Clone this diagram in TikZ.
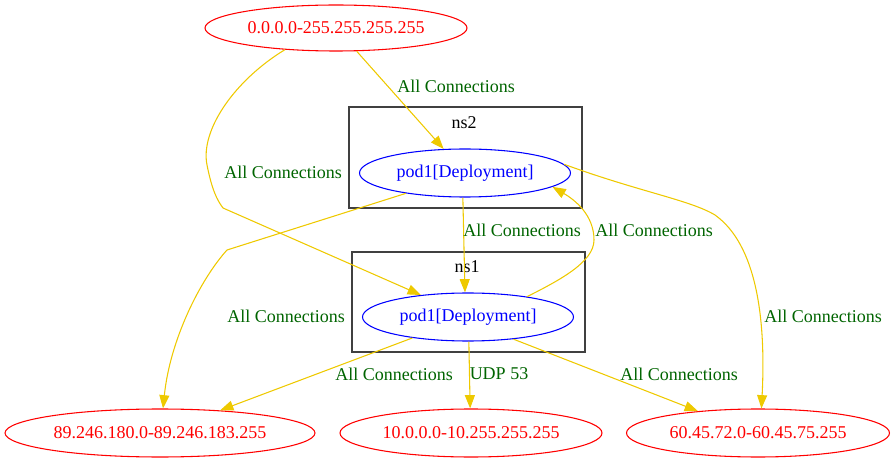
\documentclass[tikz,border=0pt]{standalone}
\usepackage{fontspec}
\setmainfont{Liberation Serif}
\usetikzlibrary{shapes.geometric,arrows.meta}
\definecolor{edgegold}{RGB}{238,201,0}
\definecolor{lblgreen}{RGB}{0,100,0}
\begin{document}
\begin{tikzpicture}[x=0.75pt,y=-0.75pt,
  every node/.style={font=\fontsize{13.5}{16}\selectfont, inner sep=0pt},
  ipnode/.style={ellipse, draw=red, text=red, line width=0.8pt, minimum height=36pt},
  podnode/.style={ellipse, draw=blue, text=blue, line width=0.8pt, minimum width=158.25pt, minimum height=36pt},
  cluster/.style={draw=black!75, line width=1.1pt, rectangle},
  conn/.style={draw=edgegold, line width=0.8pt, -{Triangle[length=10pt,width=7.5pt]}},
  lbl/.style={text=lblgreen}]
\useasboundingbox (0,0) rectangle (896,463);

\node[ipnode, minimum width=196.5pt, minimum height=34.5pt] (top) at (336,28) {0.0.0.0-255.255.255.255};
\node[cluster, minimum width=174.75pt, minimum height=75.75pt] (ns2box) at (465.5,157.5) {};
\node (ns2lbl) at (464,123) {ns2};
\node[podnode] (ns2pod) at (465,173) {pod1[Deployment]};
\node[cluster, minimum width=174.75pt, minimum height=75pt] (ns1box) at (468.5,302) {};
\node (ns1lbl) at (467,267) {ns1};
\node[podnode] (ns1pod) at (468,317) {pod1[Deployment]};
\node[ipnode, minimum width=232.5pt] (n89) at (160,433) {89.246.180.0-89.246.183.255};
\node[ipnode, minimum width=196.5pt] (n10) at (471,433) {10.0.0.0-10.255.255.255};
\node[ipnode, minimum width=197.25pt] (n60) at (758,433) {60.45.72.0-60.45.75.255};

\coordinate (k2) at (223,208);
\coordinate (k3) at (227,250);
\coordinate (k5) at (594,240);
\coordinate (k6) at (715,215);

\draw[conn] (top) -- (ns2pod);
\draw[conn] (top.-157) .. controls (235,80) and (200,130) .. (207,165) .. controls (212,190) and (217,200) .. (k2) -- (ns1pod.155);
\draw[conn] (ns2pod.-161) -- (k3) .. controls (200,280) and (170,340) .. (n89.83);
\draw[conn] (ns2pod.-95) -- (ns1pod.97);
\draw[conn] (ns1pod.19) .. controls (560,280) and (594,262) .. (k5) .. controls (594,215) and (575,200) .. (ns2pod.-9);
\draw[conn] (ns2pod.5) .. controls (640,192) and (690,200) .. (k6) .. controls (757,245) and (766,320) .. (n60.82);
\draw[conn] (ns1pod) -- (n89);
\draw[conn] (ns1pod.-88) -- (n10.92);
\draw[conn] (ns1pod.-26.6) -- (n60.160.7);

\node[lbl] (l1) at (456,86) {All Connections};
\node[lbl] (l2) at (283,172) {All Connections};
\node[lbl] (l3) at (286,316) {All Connections};
\node[lbl] (l4) at (522,230) {All Connections};
\node[lbl] (l5) at (654,230) {All Connections};
\node[lbl] (l6) at (823,316) {All Connections};
\node[lbl] (l7) at (394,374) {All Connections};
\node[lbl] (l8) at (499,374) {UDP 53};
\node[lbl] (l9) at (679,374) {All Connections};
\end{tikzpicture}
\end{document}
